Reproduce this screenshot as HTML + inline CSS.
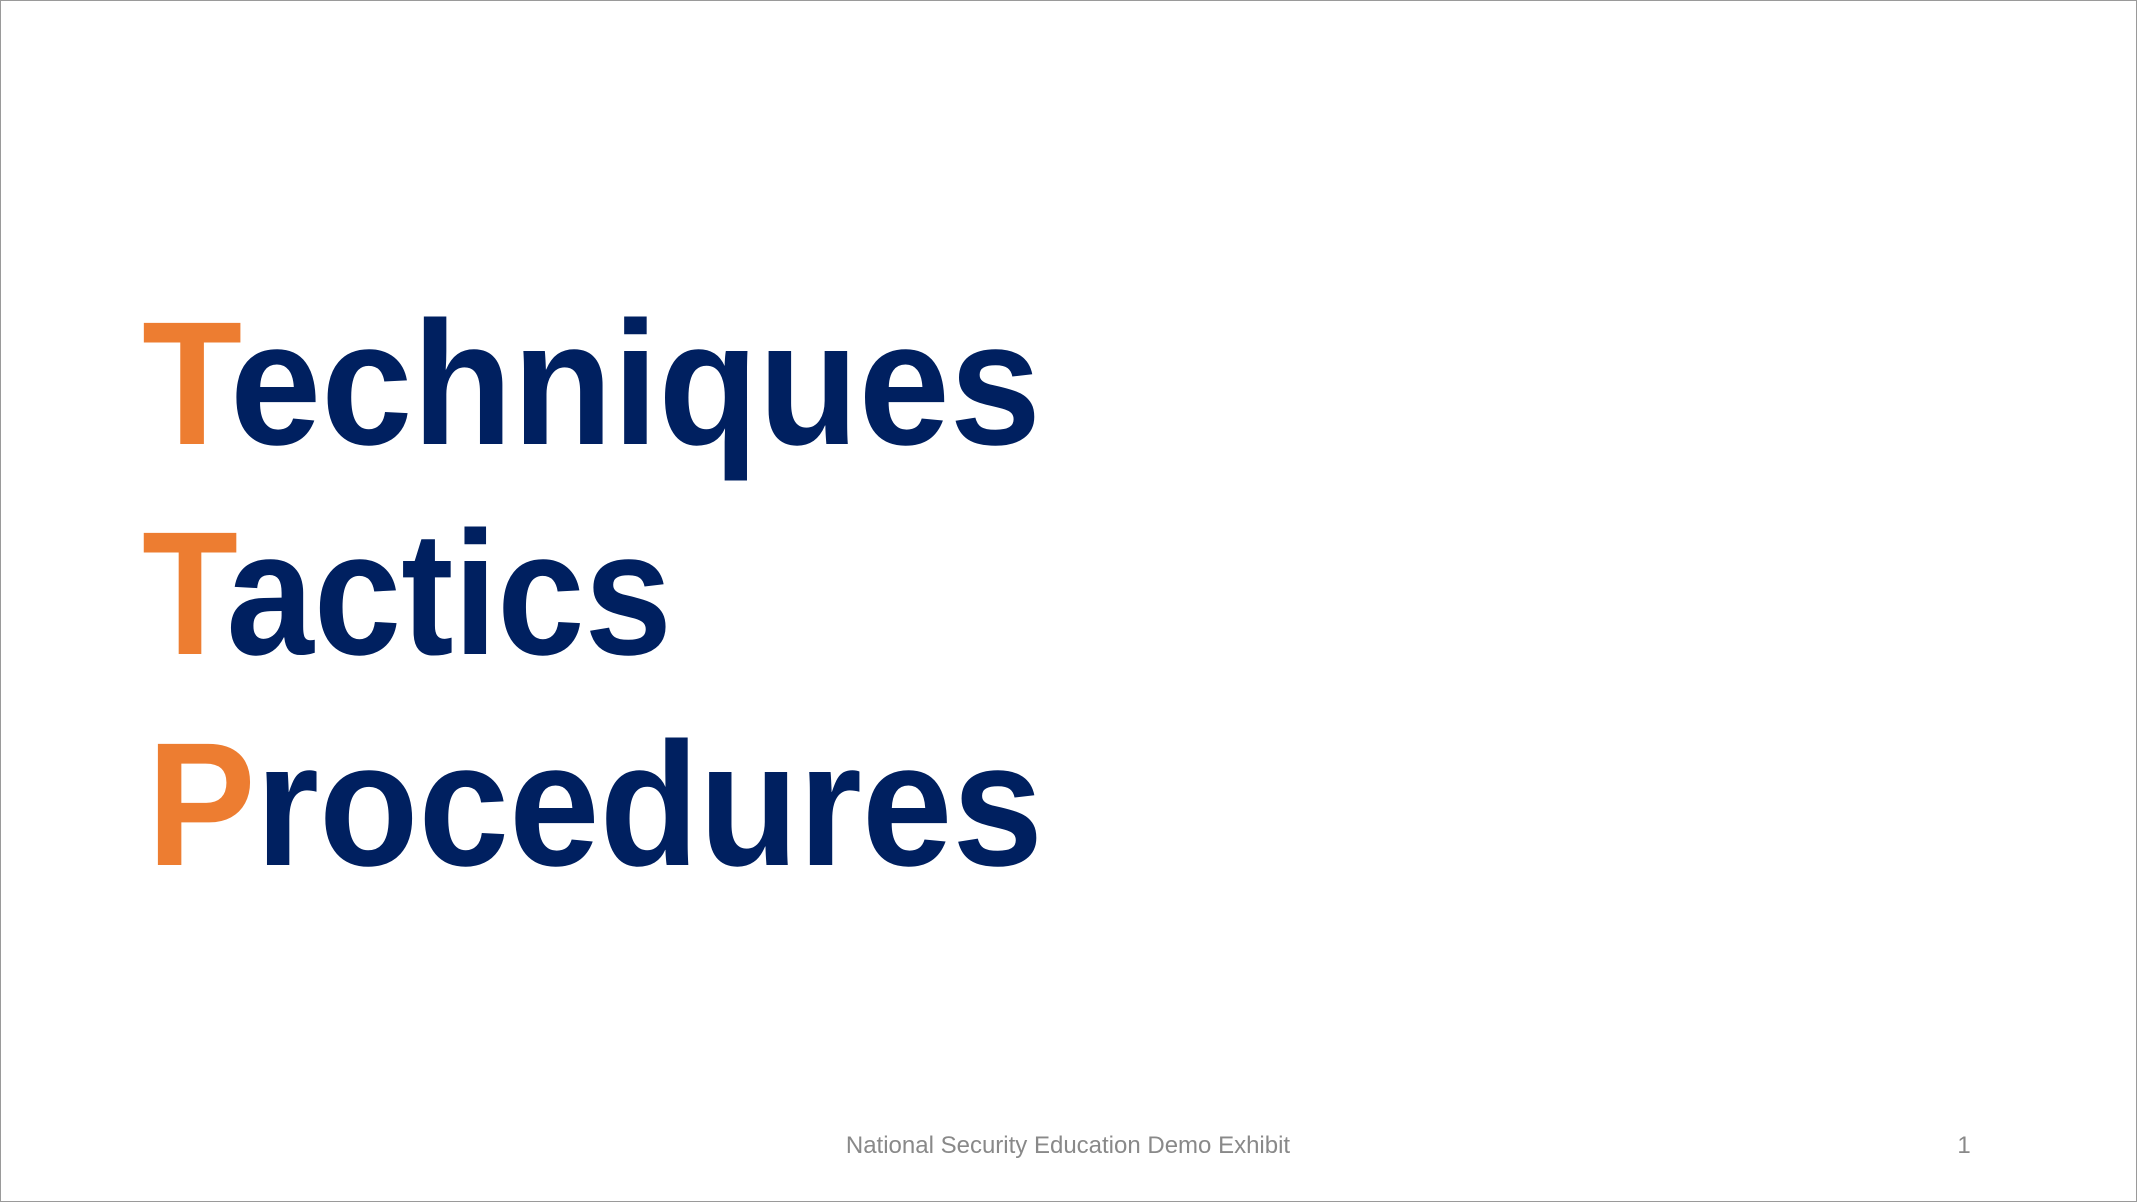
<!DOCTYPE html>
<html>
<head>
<meta charset="utf-8">
<style>
  html,body{margin:0;padding:0;background:#fff;}
  body{width:2137px;height:1202px;overflow:hidden;}
  svg{display:block;}
</style>
</head>
<body>
<svg width="2137" height="1202" viewBox="0 0 2137 1202">
  <rect x="0.5" y="0.5" width="2136" height="1201" fill="#fff" stroke="#9a9a9a" stroke-width="1"/>
  <g font-family="'Liberation Sans', sans-serif" font-weight="bold" font-size="176">
    <text x="142" y="444" textLength="899" lengthAdjust="spacingAndGlyphs" fill="#002060"><tspan fill="#ED7D31">T</tspan>echniques</text>
    <text x="142" y="654" textLength="530" lengthAdjust="spacingAndGlyphs" fill="#002060"><tspan fill="#ED7D31">T</tspan>actics</text>
    <text x="147" y="865" textLength="896" lengthAdjust="spacingAndGlyphs" fill="#002060"><tspan fill="#ED7D31">P</tspan>rocedures</text>
  </g>
  <text x="1068" y="1153" text-anchor="middle" font-family="'Liberation Sans', sans-serif" font-size="24" fill="#898989">National Security Education Demo Exhibit</text>
  <text x="1964" y="1153" text-anchor="middle" font-family="'Liberation Sans', sans-serif" font-size="24" fill="#898989">1</text>
</svg>
</body>
</html>
